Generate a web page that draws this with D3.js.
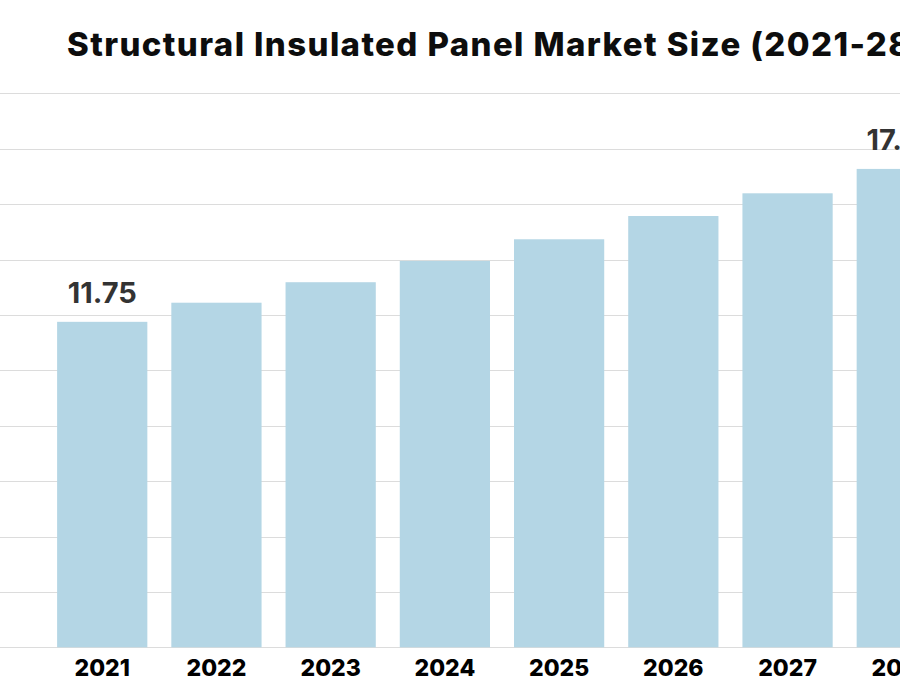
<!DOCTYPE html>
<html>
<head>
<meta charset="utf-8">
<script src="https://cdn.jsdelivr.net/npm/d3@7"></script>
<style>
  html, body { margin: 0; padding: 0; background: #ffffff; overflow: hidden; }
  svg { display: block; }
</style>
</head>
<body>
<svg id="chart" width="900" height="700"></svg>
<script>
const titleText = "Structural Insulated Panel Market Size (2021-28)";
const years = ["2021", "2022", "2023", "2024", "2025", "2026", "2027", "2028"];
const marketSize = [11.75, 12.44, 13.18, 13.95, 14.73, 15.57, 16.39, 17.27];
const labelledYears = ["2021", "2028"];
const yTicks = [0, 2, 4, 6, 8, 10, 12, 14, 16, 18, 20];

const svg = d3.select("#chart");
const W = 900;

const x = d3.scaleBand()
  .domain(years)
  .range([0, 1004])
  .paddingInner(0.21)
  .paddingOuter(0.5);

const y = d3.scaleLinear()
  .domain([0, 20])
  .range([647.3, 93.3]);

// gridlines
svg.append("g")
  .selectAll("line")
  .data(yTicks)
  .join("line")
  .attr("x1", 0)
  .attr("x2", W)
  .attr("y1", d => Math.round(y(d)) + 0.5)
  .attr("y2", d => Math.round(y(d)) + 0.5)
  .attr("stroke", "#dcdcdc")
  .attr("stroke-width", 1);

// bars
svg.append("g")
  .selectAll("rect")
  .data(years)
  .join("rect")
  .attr("x", d => x(d))
  .attr("width", x.bandwidth())
  .attr("y", (d, i) => y(marketSize[i]))
  .attr("height", (d, i) => y(0) - y(marketSize[i]))
  .attr("fill", "#b4d6e5");

// value labels
svg.append("g")
  .selectAll("text")
  .data(years.filter(d => labelledYears.includes(d)))
  .join("text")
  .attr("x", d => x(d) + x.bandwidth() / 2)
  .attr("y", d => y(marketSize[years.indexOf(d)]) - 19)
  .attr("text-anchor", "middle")
  .attr("font-family", "Inter, 'Open Sans', sans-serif")
  .attr("font-weight", 700)
  .attr("font-size", 29)
  .attr("fill", "#333333")
  .text(d => marketSize[years.indexOf(d)].toFixed(2));

// x axis labels
const xAxis = d3.axisBottom(x).tickSize(0).tickPadding(0);
const gx = svg.append("g")
  .attr("transform", `translate(0, 676)`)
  .call(xAxis);
gx.select(".domain").remove();
gx.selectAll("text")
  .attr("dy", 0)
  .attr("font-family", "Inter, 'Open Sans', sans-serif")
  .attr("font-weight", 800)
  .attr("font-size", 23)
  .attr("fill", "#000000");

// title
svg.append("text")
  .attr("x", 67)
  .attr("y", 56)
  .attr("font-family", "Inter, 'Open Sans', sans-serif")
  .attr("font-weight", 800)
  .attr("font-size", 33)
  .attr("letter-spacing", 1.4)
  .attr("fill", "#0d0d0d")
  .text(titleText);
</script>
</body>
</html>
